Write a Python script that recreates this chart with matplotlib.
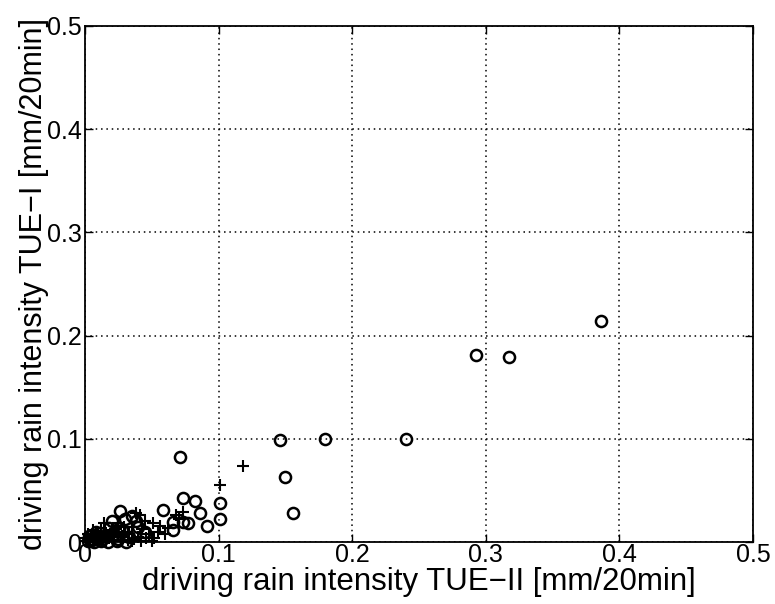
import matplotlib
matplotlib.use("Agg")
import matplotlib.pyplot as plt

plt.rcParams['font.family'] = ['Liberation Sans', 'DejaVu Sans']

circle_x = [0.386, 0.293, 0.317, 0.240, 0.180, 0.146, 0.150, 0.156, 0.071, 0.073,
            0.082, 0.086, 0.091, 0.101, 0.101, 0.058, 0.066, 0.066, 0.073, 0.077,
            0.026, 0.030, 0.035, 0.028, 0.022, 0.015, 0.010, 0.005, 0.002, 0.008,
            0.018, 0.040, 0.045, 0.033, 0.025, 0.012, 0.003, 0.020, 0.038,
            0.007, 0.013, 0.017, 0.024, 0.031, 0.004, 0.009]
circle_y = [0.214, 0.181, 0.179, 0.100, 0.100, 0.099, 0.063, 0.028, 0.082, 0.043,
            0.040, 0.028, 0.016, 0.038, 0.022, 0.031, 0.019, 0.012, 0.019, 0.018,
            0.030, 0.022, 0.025, 0.012, 0.008, 0.006, 0.004, 0.002, 0.001, 0.010,
            0.014, 0.015, 0.010, 0.005, 0.003, 0.001, 0.006, 0.020, 0.020,
            0.000, 0.003, 0.000, 0.001, 0.000, 0.003, 0.006]

plus_x = [0.118, 0.101, 0.073, 0.070, 0.051, 0.056, 0.041, 0.045, 0.035, 0.030,
          0.025, 0.020, 0.015, 0.012, 0.008, 0.005, 0.003, 0.001, 0.018, 0.022,
          0.028, 0.032, 0.040, 0.048, 0.052, 0.010, 0.006, 0.014, 0.038, 0.043,
          0.062, 0.068, 0.060, 0.002, 0.016, 0.035,
          0.004, 0.007, 0.011, 0.013, 0.019, 0.021, 0.024, 0.027, 0.033, 0.037,
          0.042, 0.046, 0.050, 0.055, 0.009, 0.017, 0.029, 0.001, 0.006, 0.023]
plus_y = [0.074, 0.055, 0.029, 0.022, 0.018, 0.016, 0.026, 0.020, 0.015, 0.010,
          0.018, 0.012, 0.010, 0.014, 0.008, 0.005, 0.002, 0.001, 0.004, 0.002,
          0.006, 0.002, 0.005, 0.008, 0.004, 0.002, 0.012, 0.018, 0.028, 0.013,
          0.014, 0.026, 0.008, 0.008, 0.001, 0.001,
          0.000, 0.003, 0.006, 0.001, 0.008, 0.005, 0.010, 0.001, 0.008, 0.003,
          0.001, 0.004, 0.001, 0.010, 0.004, 0.007, 0.015, 0.004, 0.000, 0.013]

ticks = [0, 0.1, 0.2, 0.3, 0.4, 0.5]
tick_labels = ['0', '0.1', '0.2', '0.3', '0.4', '0.5']

fig = plt.figure(figsize=(7.75, 6.04), dpi=100)
ax = fig.add_axes([0.1097, 0.1026, 0.8619, 0.8544])

ax.plot(circle_x, circle_y, 'o', mfc='none', mec='black', ms=8, mew=1.8, clip_on=False, zorder=3)
ax.plot(plus_x, plus_y, '+', color='black', ms=9, mew=1.5, clip_on=False, zorder=3)

ax.set_xlim(0, 0.5)
ax.set_ylim(0, 0.5)
ax.set_xticks(ticks)
ax.set_xticklabels(tick_labels)
ax.set_yticks(ticks)
ax.set_yticklabels(tick_labels)
ax.grid(True, color='black', linestyle=(0, (1, 2.5)), linewidth=1.1)
ax.tick_params(direction='in', top=True, right=True, length=6, width=1,
               labelsize=18, pad=2)
ax.tick_params(axis='x', pad=1)
for s in ax.spines.values():
    s.set_linewidth(1.3)

ax.set_xlabel('driving rain intensity TUE\u2212II [mm/20min]', fontsize=22.5, labelpad=0)
ax.set_ylabel('driving rain intensity TUE\u2212I [mm/20min]', fontsize=22, labelpad=-1)

fig.savefig('out.png', dpi=100)
